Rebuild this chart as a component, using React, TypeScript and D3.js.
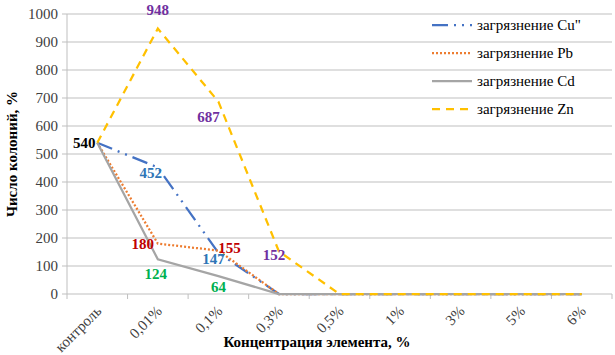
import React from "react";
import * as d3 from "d3";

const categories = ["контроль", "0,01%", "0,1%", "0,3%", "0,5%", "1%", "3%", "5%", "6%"];
const cuValues = [540, 452, 147, 0, 0, 0, 0, 0, 0];
const pbValues = [540, 180, 155, 0, 0, 0, 0, 0, 0];
const cdValues = [540, 124, 64, 0, 0, 0, 0, 0, 0];
const znValues = [540, 948, 687, 152, 0, 0, 0, 0, 0];
const yTicks = [0, 100, 200, 300, 400, 500, 600, 700, 800, 900, 1000];
const seriesNames = ["загрязнение Cu\"", "загрязнение Pb", "загрязнение Cd", "загрязнение Zn"];

const W = 615, H = 355;
const left = 67, right = 612, top = 14, bottom = 294;
const font = "'Liberation Serif', 'DejaVu Serif', serif";

const series = [
  { name: seriesNames[0], values: cuValues, color: "#4472C4", dash: "16 6 2 6 2 6", width: 2.25 },
  { name: seriesNames[1], values: pbValues, color: "#ED7D31", dash: "2 2", width: 2.25 },
  { name: seriesNames[2], values: cdValues, color: "#A5A5A5", dash: "", width: 2.25 },
  { name: seriesNames[3], values: znValues, color: "#FFC000", dash: "8 6", width: 2.25 },
];

// data labels: series index, category index, text, color, dx, dy
const dataLabels = [
  { s: 0, c: 0, text: "540", color: "#000000", dx: -13, dy: 5 },
  { s: 3, c: 1, text: "948", color: "#7030A0", dx: 0, dy: -14 },
  { s: 3, c: 2, text: "687", color: "#7030A0", dx: -10, dy: 20 },
  { s: 0, c: 1, text: "452", color: "#2E75B6", dx: -7, dy: 11 },
  { s: 1, c: 1, text: "180", color: "#C00000", dx: -15, dy: 5 },
  { s: 1, c: 2, text: "155", color: "#C00000", dx: 11, dy: 2 },
  { s: 0, c: 2, text: "147", color: "#2E75B6", dx: -5, dy: 11 },
  { s: 3, c: 3, text: "152", color: "#7030A0", dx: -5, dy: 9 },
  { s: 2, c: 1, text: "124", color: "#00B050", dx: -2, dy: 20 },
  { s: 2, c: 2, text: "64", color: "#00B050", dx: 0, dy: 16 },
];

export default function App() {
  const x = d3.scaleBand<string>().domain(categories).range([left, right]).padding(0);
  const y = d3.scaleLinear().domain([0, 1000]).range([bottom, top]);
  const cx = (i: number) => (x(categories[i]) as number) + x.bandwidth() / 2;
  const line = d3.line<number>().x((_, i) => cx(i)).y((d) => y(d));

  return (
    <svg width={W} height={H} style={{ position: "absolute", left: 0, top: 0, background: "#fff" }}>
      {yTicks.map((t) => (
        <g key={t}>
          <line x1={left} x2={right} y1={y(t)} y2={y(t)} stroke="#BFBFBF" strokeWidth={1} />
          <line x1={left - 5} x2={left} y1={y(t)} y2={y(t)} stroke="#BFBFBF" strokeWidth={1} />
          <text x={left - 9} y={y(t) + 5} textAnchor="end" fontFamily={font} fontSize={15} fill="#404040">{t}</text>
        </g>
      ))}
      <line x1={left} x2={left} y1={top} y2={bottom} stroke="#BFBFBF" />
      {categories.map((c) => (
        <line key={"t" + c} x1={x(c) as number} x2={x(c) as number} y1={bottom} y2={bottom + 5} stroke="#BFBFBF" />
      ))}
      <line x1={right} x2={right} y1={bottom} y2={bottom + 5} stroke="#BFBFBF" />
      {categories.map((c, i) => (
        <text key={"l" + c} transform={`translate(${cx(i) + 5},${bottom + 18}) rotate(-45)`} textAnchor="end"
          fontFamily={font} fontSize={15} fill="#404040">{c}</text>
      ))}
      {series.map((s) => (
        <path key={s.name} d={line(s.values) as string} fill="none" stroke={s.color} strokeWidth={s.width}
          strokeDasharray={s.dash || undefined} />
      ))}
      {dataLabels.map((l, i) => (
        <text key={"d" + i} x={cx(l.c) + l.dx} y={y(series[l.s].values[l.c]) + l.dy} textAnchor="middle"
          fontFamily={font} fontSize={15} fontWeight="bold" fill={l.color}>{l.text}</text>
      ))}
      {series.map((s, i) => (
        <g key={"lg" + s.name} transform={`translate(432,${25 + i * 28})`}>
          <line x1={0} x2={40} y1={0} y2={0} stroke={s.color} strokeWidth={2.25} strokeDasharray={s.dash || undefined} />
          <text x={45} y={5} fontFamily={font} fontSize={15} fill="#000">{s.name}</text>
        </g>
      ))}
      <text transform={`translate(17,${(top + bottom) / 2}) rotate(-90)`} textAnchor="middle" fontFamily={font}
        fontSize={15} fontWeight="bold" fill="#000">Число колоний, %</text>
      <text x={317} y={347} textAnchor="middle" fontFamily={font} fontSize={15} fontWeight="bold" fill="#000">
        Концентрация элемента, %
      </text>
    </svg>
  );
}
